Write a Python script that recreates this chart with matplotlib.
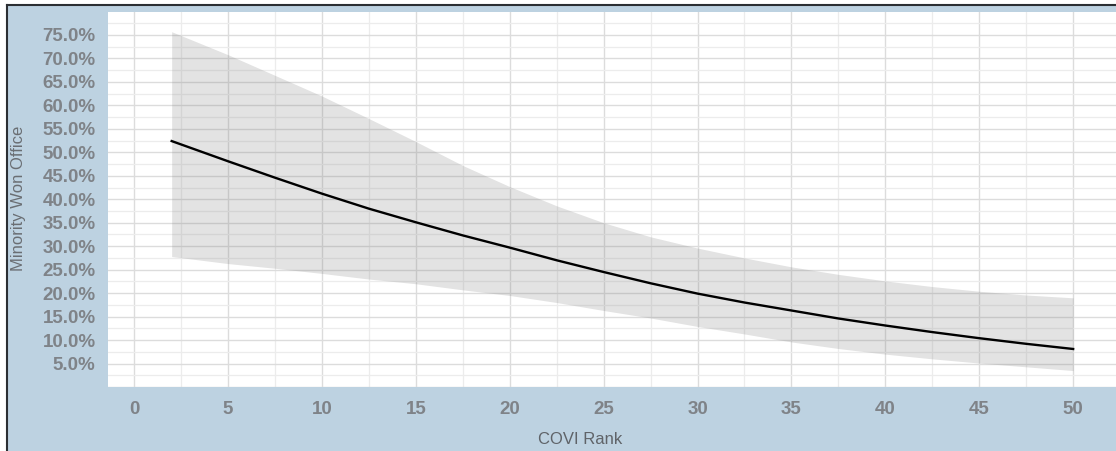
import matplotlib.pyplot as plt
from matplotlib.patches import Rectangle
from matplotlib.lines import Line2D
from matplotlib.ticker import MultipleLocator, FuncFormatter

# predicted probability by COVI rank, with confidence band (fractions)
covi_rank = [2, 5, 7.5, 10, 12.5, 15, 17.5, 20, 22.5, 25, 27.5, 30,
             32.5, 35, 37.5, 40, 42.5, 45, 47.5, 50]
predicted = [0.524, 0.481, 0.446, 0.412, 0.380, 0.351, 0.323, 0.297, 0.270, 0.245,
             0.221, 0.199, 0.180, 0.163, 0.146, 0.131, 0.117, 0.104, 0.092, 0.081]
upper = [0.757, 0.708, 0.664, 0.620, 0.572, 0.523, 0.472, 0.427, 0.386, 0.350,
         0.320, 0.296, 0.275, 0.256, 0.240, 0.226, 0.214, 0.204, 0.196, 0.190]
lower = [0.278, 0.263, 0.253, 0.242, 0.230, 0.220, 0.207, 0.195, 0.180, 0.163,
         0.147, 0.129, 0.113, 0.096, 0.082, 0.070, 0.060, 0.051, 0.043, 0.035]

plt.rcParams['font.family'] = ['Liberation Sans', 'DejaVu Sans']

W, H = 1116, 451
fig = plt.figure(figsize=(W / 100, H / 100), dpi=100, facecolor='white')

# blue panel with dark frame on top and left
fig.patches.append(Rectangle((7 / W, 0), 1, (H - 5) / H, transform=fig.transFigure,
                             facecolor='#bdd2e1', edgecolor='none', zorder=-5))
fig.lines.append(Line2D([7 / W, 7 / W], [0, (H - 5) / H], transform=fig.transFigure,
                        color='#2b2f33', lw=1.5, zorder=-4))
fig.lines.append(Line2D([7 / W, 1], [(H - 5) / H, (H - 5) / H], transform=fig.transFigure,
                        color='#2b2f33', lw=1.5, zorder=-4))

ax = fig.add_axes([108 / W, (H - 387) / H, 1 - 108 / W + 0.002, 375 / H])
ax.set_facecolor('white')

ax.fill_between(covi_rank, lower, upper, color='#808080', alpha=0.22, lw=0, zorder=2)
ax.plot(covi_rank, predicted, color='black', lw=1.7, zorder=3)

ax.set_xlim(-1.39, 52.4)
ax.set_ylim(0, 0.799)
ax.xaxis.set_major_locator(MultipleLocator(5))
ax.xaxis.set_minor_locator(MultipleLocator(2.5))
ax.yaxis.set_major_locator(MultipleLocator(0.05))
ax.yaxis.set_minor_locator(MultipleLocator(0.025))
ax.yaxis.set_major_formatter(FuncFormatter(lambda v, p: f"{v * 100:.1f}%" if v > 0.01 else ""))

ax.grid(which='major', color='#dcdcdc', lw=1.0, zorder=1)
ax.grid(which='minor', color='#ececec', lw=0.9, zorder=1)
ax.set_axisbelow(True)
for s in ax.spines.values():
    s.set_visible(False)

ax.tick_params(which='both', length=0)
ax.tick_params(axis='y', pad=9, labelsize=13.5, labelcolor='#7f8388')
ax.tick_params(axis='x', pad=10, labelsize=13.5, labelcolor='#7f8388')
for lab in ax.get_xticklabels() + ax.get_yticklabels():
    lab.set_fontweight('bold')

fig.text(580 / W, (H - 439) / H, 'COVI Rank', ha='center', va='center',
         fontsize=12, color='#5f6368')
fig.text(19 / W, (H - 198) / H, 'Minority Won Office', ha='center', va='center',
         rotation=90, fontsize=12, color='#6a6e73')

fig.savefig('out.png', dpi=100, facecolor=fig.get_facecolor())
